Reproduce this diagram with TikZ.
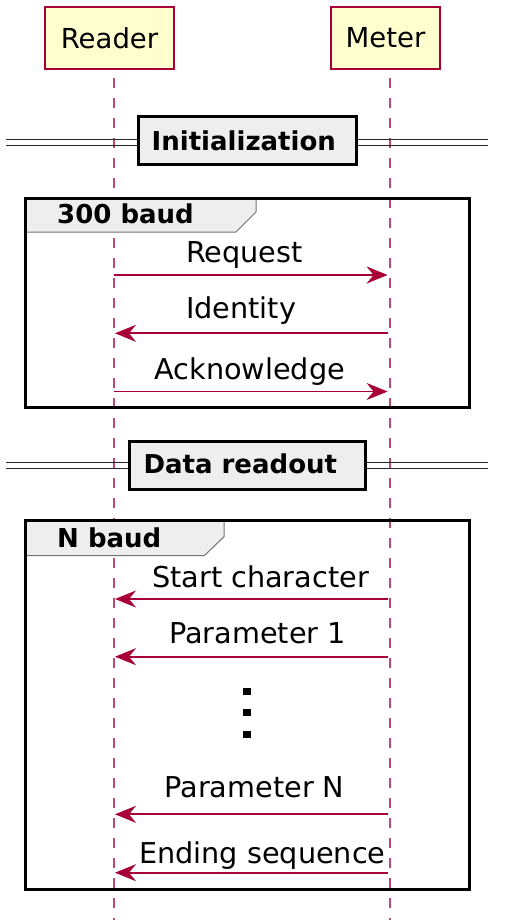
\documentclass[tikz,border=0pt]{standalone}
\usepackage{fontspec}
\setmainfont{DejaVu Sans}
\usetikzlibrary{arrows.meta}
\definecolor{pcrim}{HTML}{A80036}
\definecolor{pfill}{HTML}{FEFECE}
\definecolor{gfill}{HTML}{EEEEEE}
\begin{document}
\begin{tikzpicture}[x=1pt,y=-1pt,
  participant/.style={draw=pcrim, line width=2.4pt, fill=pfill, inner sep=0pt,
    minimum height=62pt, font=\fontsize{27.5}{32}\selectfont},
  lifeline/.style={draw=pcrim!72!white, line width=2pt, dash pattern=on 10pt off 10pt},
  msg/.style={draw=pcrim, line width=1.7pt, -{Stealth[length=21pt,width=17pt,inset=7pt]}},
  msgright/.style={msg, shorten >=2.4pt},
  msgleft/.style={msg, shorten <=2.4pt, shorten >=1pt},
  msglabel/.style={anchor=base west, inner sep=0pt, font=\fontsize{28.7}{34}\selectfont},
  divbox/.style={draw=black, line width=3pt, fill=gfill, inner sep=0pt},
  divlabel/.style={anchor=base west, inner sep=0pt, font=\fontsize{26}{31}\bfseries\selectfont},
  divline/.style={draw=black!85, line width=1.5pt},
  frame/.style={draw=black, line width=3pt},
  tab/.style={fill=gfill, draw=black!55, line width=1pt},
  grouplabel/.style={anchor=base west, inner sep=0pt, font=\fontsize{26}{31}\bfseries\selectfont},
]
\useasboundingbox (0,0) rectangle (512,920);

% lifelines
\coordinate (rtop) at (114,78.3);
\coordinate (rbot) at (114,920);
\coordinate (mtop) at (390,78.3);
\coordinate (mbot) at (390,920);
\draw[lifeline] (rtop) -- (rbot);
\draw[lifeline] (mtop) -- (mbot);

% participants
\node[participant, minimum width=129pt] (reader) at (109.5,38) {Reader};
\node[participant, minimum width=109pt] (meter) at (385.5,38) {Meter};

% divider: Initialization
\coordinate (d1a) at (6,139.5);  \coordinate (d1b) at (488,139.5);
\coordinate (d1c) at (6,145.5);  \coordinate (d1d) at (488,145.5);
\draw[divline] (d1a) -- (d1b);
\draw[divline] (d1c) -- (d1d);
\node[divbox, minimum width=218pt, minimum height=48pt] (initbox) at (247,141) {};
\node[divlabel] (initlabel) at (151.5,151) {Initialization};

% group 300 baud
\filldraw[tab] (25,198) -- (256,198) -- (256,212) -- (236,232) -- (25,232) -- cycle;
\draw[frame] (25,198) rectangle (469,407.3);
\node[grouplabel] (g1label) at (57,223.3) {300 baud};

% messages group 1
\coordinate (r1) at (114,275);   \coordinate (m1) at (390,275);
\coordinate (r2) at (114,333.3); \coordinate (m2) at (390,333.3);
\coordinate (r3) at (114,391.5); \coordinate (m3) at (390,391.5);
\draw[msgright] (r1) -- (m1);
\draw[msgleft] (m2) -- (r2);
\draw[msgright] (r3) -- (m3);
\node[msglabel] (l1) at (186,262.3) {Request};
\node[msglabel] (l2) at (186,318.3) {Identity};
\node[msglabel] (l3) at (154.3,379) {Acknowledge};

% divider: Data readout
\coordinate (d2a) at (6,462.5);  \coordinate (d2b) at (488,462.5);
\coordinate (d2c) at (6,468.7);  \coordinate (d2d) at (488,468.7);
\draw[divline] (d2a) -- (d2b);
\draw[divline] (d2c) -- (d2d);
\node[divbox, minimum width=236pt, minimum height=48pt] (databox) at (247,465) {};
\node[divlabel] (datalabel) at (143.3,473.3) {Data readout};

% group N baud
\filldraw[tab] (25,520) -- (224,520) -- (224,536.7) -- (204.3,555.7) -- (25,555.7) -- cycle;
\draw[frame] (25,520) rectangle (469,889.3);
\node[grouplabel] (g2label) at (57,547.7) {N baud};

% messages group 2
\coordinate (r4) at (114,599);   \coordinate (m4) at (390,599);
\coordinate (r5) at (114,656.7); \coordinate (m5) at (390,656.7);
\coordinate (r6) at (114,814.3); \coordinate (m6) at (390,814.3);
\coordinate (r7) at (114,872.7); \coordinate (m7) at (390,872.7);
\draw[msgleft] (m4) -- (r4);
\draw[msgleft] (m5) -- (r5);
\draw[msgleft] (m6) -- (r6);
\draw[msgleft] (m7) -- (r7);
\node[msglabel] (l4) at (152,587.7) {Start character};
\node[msglabel] (l5) at (169,643.3) {Parameter 1};
\node[msglabel] (l6) at (164.3,797.3) {Parameter N};
\node[msglabel] (l7) at (139,863.3) {Ending sequence};

% vertical ellipsis
\fill (243.3,688.2) rectangle (251.3,695.2);
\fill (243.3,709.2) rectangle (251.3,716.2);
\fill (243.3,730.5) rectangle (251.3,737.5);
\end{tikzpicture}
\end{document}
